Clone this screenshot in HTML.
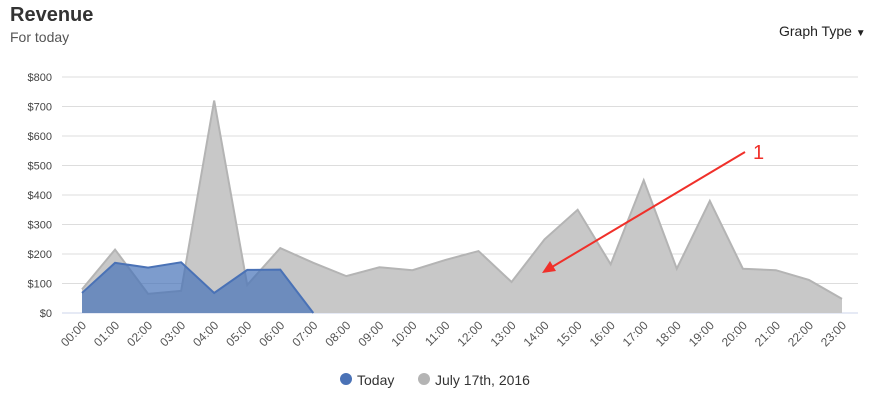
<!DOCTYPE html>
<html><head><meta charset="utf-8"><style>
body{margin:0;background:#fff;font-family:"Liberation Sans",sans-serif;}
#wrap{position:relative;width:882px;height:400px;overflow:hidden;}
.title{position:absolute;left:10px;top:4px;font-size:20px;font-weight:bold;color:#333;}
.sub{position:absolute;left:10px;top:29px;font-size:14px;color:#555;}
.gt{position:absolute;left:779px;top:23px;font-size:14px;color:#222;}
</style></head><body>
<div id="wrap">
<div class="title">Revenue</div>
<div class="sub">For today</div>
<div class="gt">Graph Type <span style="font-size:10px">▼</span></div>
<svg id="chart" width="882" height="400" style="position:absolute;left:0;top:0"></svg>
</div>
<script>
const categories=["00:00","01:00","02:00","03:00","04:00","05:00","06:00","07:00","08:00","09:00","10:00","11:00","12:00","13:00","14:00","15:00","16:00","17:00","18:00","19:00","20:00","21:00","22:00","23:00"];
const julyValues=[80,215,65,75,720,95,220,170,125,155,145,180,210,105,250,350,165,450,150,380,150,145,112,48];
const todayValues=[68,170,154,172,68,146,147,0];
const yTicks=[0,100,200,300,400,500,600,700,800];
const svg=document.getElementById('chart');
const NS='http://www.w3.org/2000/svg';
const x=i=>82+i*(760/23);
const y=v=>313-v*(236/800);
function mk(t,a,p){const e=document.createElementNS(NS,t);for(const k in a)e.setAttribute(k,a[k]);(p||svg).appendChild(e);return e;}
yTicks.forEach(v=>{
  const l=mk('line',{x1:62,x2:858,y1:y(v),y2:y(v),stroke:v?'#ddd':'#ccd6eb','stroke-width':1});
  
  
  const t=mk('text',{x:52,y:y(v)+4,'text-anchor':'end','font-size':11,fill:'#444'});
  t.textContent='$'+v;
  
  
});
categories.forEach((c,i)=>{
  const t=mk('text',{x:x(i)+5,y:326,'text-anchor':'end','font-size':12,fill:'#555',transform:`rotate(-45 ${x(i)+5} 326)`});
  t.textContent=c;
  
  
});
function area(vals,fill,stroke,op,name){
  let d=`M${x(0)},${y(0)}`;vals.forEach((v,i)=>d+=` L${x(i)},${y(v)}`);d+=` L${x(vals.length-1)},${y(0)} Z`;
  const p=mk('path',{d:d,fill:fill,'fill-opacity':op});
  
  
  let ld='';vals.forEach((v,i)=>ld+=(i?' L':'M')+x(i)+','+y(v));
  const l=mk('path',{d:ld,fill:'none',stroke:stroke,'stroke-width':2});
  
  
}
area(julyValues,'#c8c8c8','#b4b4b4',1,'july-series');
area(todayValues,'#4672b8','#4a72b6',0.7,'today-series');
const ar=mk('line',{x1:745,y1:152,x2:552,y2:267,stroke:'#f0302a','stroke-width':2});


const ah=mk('polygon',{points:'542,273 550,261 556,271',fill:'#f0302a'});


const an=mk('text',{x:753,y:159,'font-size':20,fill:'#f0302a'});an.textContent='1';


const lg=[{t:'Today',c:'#4a72b6',x:340},{t:'July 17th, 2016',c:'#b4b4b4',x:418}];
lg.forEach(e=>{
  const c=mk('circle',{cx:e.x+6,cy:379,r:6,fill:e.c});
  
  
  const t=mk('text',{x:e.x+17,y:385,'font-size':14,fill:'#333'});t.textContent=e.t;
  
  
});
</script>
</body></html>
